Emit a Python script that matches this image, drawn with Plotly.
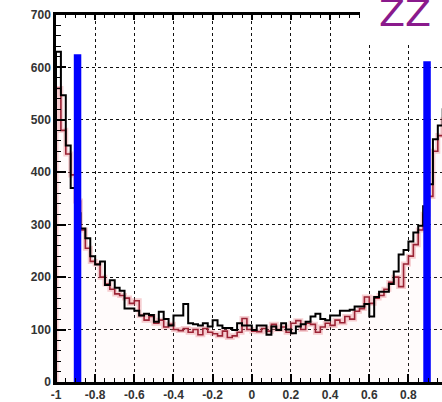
import numpy as np
import plotly.graph_objects as go

# 80 bins from -1 to 1
bin_lo, bin_hi, n_bins = -1.0, 1.0, 80

black_counts = [
    630, 547, 451, 370, 322, 293, 274, 240, 224, 230,
    185, 194, 180, 174, 140, 140, 136, 127, 130, 128,
    115, 134, 120, 108, 127, 127, 149, 112, 110, 108,
    112, 106, 118, 108, 103, 103, 99, 112, 108, 108,
    99, 108, 108, 90, 106, 99, 112, 100, 93, 106,
    110, 115, 125, 130, 120, 118, 127, 127, 136, 136,
    138, 144, 144, 149, 125, 162, 172, 172, 187, 211,
    243, 252, 268, 285, 298, 335, 377, 463, 489, 520,
]

red_counts = [
    560, 480, 435, 395, 345, 290, 255, 230, 225, 200,
    187, 177, 168, 165, 160, 150, 155, 127, 118, 125,
    112, 118, 105, 110, 100, 98, 102, 95, 100, 90,
    102, 95, 92, 88, 97, 85, 88, 95, 121, 100,
    97, 96, 102, 97, 110, 100, 105, 95, 112, 117,
    100, 112, 110, 95, 105, 112, 108, 118, 113, 125,
    120, 135, 140, 162, 150, 160, 165, 177, 190, 200,
    182, 225, 240, 262, 290, 320, 354, 440, 470, 500,
]

blue_x = [-0.89, 0.895]
blue_top = [625, 612]
blue_bottom = [-5, -5]

x_tick_vals = [-1, -0.8, -0.6, -0.4, -0.2, 0, 0.2, 0.4, 0.6, 0.8, 1.0]
x_tick_text = ["-1", "-0.8", "-0.6", "-0.4", "-0.2", "0", "0.2", "0.4", "0.6", "0.8", "1"]
y_tick_vals = [0, 100, 200, 300, 400, 500, 600, 700]
y_tick_text = ["0", "100", "200", "300", "400", "500", "600", "700"]

edges = np.linspace(bin_lo, bin_hi, n_bins + 1)


def step_xy(counts):
    xs = [edges[0]] + list(edges)
    ys = [0] + list(counts) + [counts[-1]]
    return xs, ys


fig = go.Figure()

rx, ry = step_xy(red_counts)
fig.add_trace(go.Scatter(x=rx, y=ry, mode="lines", line_shape="hv",
                         line=dict(color="rgba(230,120,130,0.35)", width=5),
                         fill="tozeroy", fillcolor="rgba(255,170,180,0.05)",
                         hoverinfo="skip", showlegend=False))
fig.add_trace(go.Scatter(x=rx, y=ry, mode="lines", line_shape="hv",
                         line=dict(color="#9b2335", width=1.6),
                         hoverinfo="skip", showlegend=False))

bx, by = step_xy(black_counts)
fig.add_trace(go.Scatter(x=bx, y=by, mode="lines", line_shape="hv",
                         line=dict(color="black", width=2),
                         hoverinfo="skip", showlegend=False))

for xv, yb, yt in zip(blue_x, blue_bottom, blue_top):
    fig.add_trace(go.Scatter(x=[xv, xv], y=[yb, yt], mode="lines",
                             line=dict(color="#0000ff", width=7.5),
                             hoverinfo="skip", showlegend=False))

# dummy trace to activate the top axis
fig.add_trace(go.Scatter(x=[bin_lo], y=[0], xaxis="x2", mode="markers",
                         marker=dict(opacity=0), hoverinfo="skip", showlegend=False))

xr = [-1, (442 - 56) / 195.8 - 1]
tickfont = dict(family="Liberation Sans, Arial, sans-serif", size=12, color="#333", weight="bold")

fig.update_layout(
    width=442, height=402,
    margin=dict(l=56, r=0, t=15, b=12),
    paper_bgcolor="white", plot_bgcolor="white",
    xaxis=dict(range=xr, tickmode="array", tickvals=x_tick_vals, ticktext=x_tick_text,
               ticks="inside", ticklen=8, tickwidth=1.5, tickcolor="black",
               minor=dict(tickmode="array", tickvals=list(np.arange(-1, 1.001, 0.05)),
                          ticks="inside", ticklen=4, tickwidth=1.2, tickcolor="black", showgrid=False),
               showgrid=True, gridcolor="#111", griddash="dot", gridwidth=1,
               showline=True, linecolor="black", linewidth=2.5, zeroline=False,
               tickfont=tickfont),
    xaxis2=dict(range=xr, overlaying="x", side="top", anchor="y",
                tickmode="array", tickvals=x_tick_vals, ticks="inside", ticklen=5,
                tickwidth=1.5, tickcolor="black", showticklabels=False,
                minor=dict(tickmode="array", tickvals=list(np.arange(-1, 1.001, 0.05)),
                           ticks="inside", ticklen=3, tickwidth=1.2, tickcolor="black"),
                showgrid=False, showline=True, linecolor="black", linewidth=3, zeroline=False),
    yaxis=dict(range=[0, 700], tickmode="array", tickvals=y_tick_vals, ticktext=y_tick_text,
               ticks="inside", ticklen=10, tickwidth=1.5, tickcolor="black",
               minor=dict(tickmode="array", tickvals=list(range(0, 701, 20)),
                          ticks="inside", ticklen=5, tickwidth=1.2, tickcolor="black", showgrid=False),
               showgrid=True, gridcolor="#111", griddash="dot", gridwidth=1,
               showline=True, linecolor="black", linewidth=2.5, zeroline=False,
               tickfont=tickfont),
    shapes=[dict(type="rect", xref="paper", yref="paper",
                 x0=(360 - 56) / 386, x1=1.02, y0=(390 - 45) / 375, y1=1.1,
                 fillcolor="white", line=dict(width=0), layer="above")],
    annotations=[dict(text="ZZ", xref="paper", yref="paper",
                      x=(377 - 56) / 386, y=1.072, xanchor="left", yanchor="top",
                      showarrow=False,
                      font=dict(family="DejaVu Sans, sans-serif", size=38, color="#8a1a8c"))],
)

fig.write_html("out.html")
